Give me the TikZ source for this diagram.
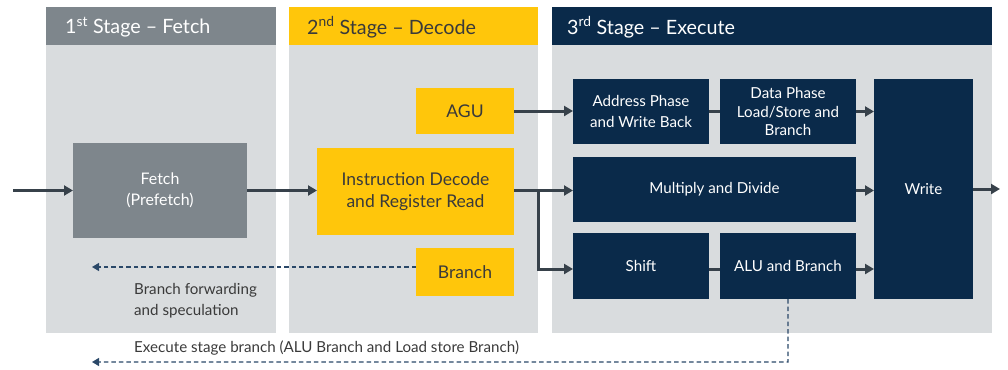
\documentclass[tikz,border=0pt]{standalone}
\usepackage{fontspec}
\setmainfont{Lato}
\usetikzlibrary{arrows.meta,calc}

\definecolor{hdrgray}{HTML}{7E868C}
\definecolor{bodygray}{HTML}{D9DCDE}
\definecolor{ylw}{HTML}{FFC60B}
\definecolor{navy}{HTML}{0A2A4A}
\definecolor{txtdark}{HTML}{3A3A3A}
\definecolor{arr}{HTML}{37414A}
\definecolor{dashc}{HTML}{2A4868}

\tikzset{
  blk/.style={rectangle, inner sep=0pt, outer sep=0pt, anchor=north west, align=center},
  body/.style={blk, fill=bodygray},
  hdr/.style={blk},
  hdrtxt/.style={anchor=west, inner sep=0pt, font=\fontsize{19.8}{23}\selectfont},
  grayblk/.style={blk, fill=hdrgray, text=white, font=\fontsize{16}{21}\selectfont},
  ylwblk/.style={blk, fill=ylw, text=txtdark, font=\fontsize{17.6}{22}\selectfont},
  navyblk/.style={blk, fill=navy, text=white, font=\fontsize{15.2}{22}\selectfont},
  tight/.style={font=\fontsize{15.2}{18.5}\selectfont},
  flow/.style={draw=arr, line width=3bp, -{Triangle[length=9bp,width=10bp]}},
  link/.style={draw=arr, line width=3bp},
  fb/.style={draw=dashc, line width=1.3bp, dash pattern=on 4.5bp off 3bp, -{Triangle[length=7bp,width=8bp]}},
  note/.style={inner sep=0pt, text=txtdark, align=left, font=\fontsize{15.2}{21}\selectfont}
}

\begin{document}
\begin{tikzpicture}[x=1bp, y=-1bp]
\useasboundingbox (0,0) rectangle (1008,369);

% stage columns
\node[body, minimum width=230bp, minimum height=326bp] (s1) at (46,7) {};
\node[body, minimum width=249bp, minimum height=326bp] (s2) at (289,7) {};
\node[body, minimum width=440bp, minimum height=326bp] (s3) at (552,7) {};

% stage headers
\node[hdr, fill=hdrgray, minimum width=230bp, minimum height=38bp] (h1) at (46,7) {};
\node[hdr, fill=ylw, minimum width=249bp, minimum height=38bp] (h2) at (289,7) {};
\node[hdr, fill=navy, minimum width=440bp, minimum height=38bp] (h3) at (552,7) {};
\node[hdrtxt, text=white] (t1) at ($(h1.west)+(19,1)$) {1\textsuperscript{st} Stage – Fetch};
\node[hdrtxt, text=txtdark] (t2) at ($(h2.west)+(18,1)$) {2\textsuperscript{nd} Stage – Decode};
\node[hdrtxt, text=white] (t3) at ($(h3.west)+(15,1)$) {3\textsuperscript{rd} Stage – Execute};

% fetch stage
\node[grayblk, minimum width=174bp, minimum height=95bp] (fetch) at (73,143) {Fetch\\(Prefetch)};

% decode stage
\node[ylwblk, minimum width=98bp, minimum height=46bp] (agu) at (416,88) {AGU};
\node[ylwblk, minimum width=197bp, minimum height=87bp] (dec) at (317,148) {Instruction Decode\\and Register Read};
\node[ylwblk, minimum width=98bp, minimum height=48bp] (br) at (416,248) {Branch};

% execute stage
\node[navyblk, minimum width=136bp, minimum height=65bp] (addr) at (573,79) {Address Phase\\and Write Back};
\node[navyblk, tight, minimum width=136bp, minimum height=65bp, text depth=0pt] (data) at (720,79) {Data Phase\\Load/Store and\\Branch};
\node[navyblk, minimum width=283bp, minimum height=65bp] (mul) at (573,157) {Multiply and Divide};
\node[navyblk, minimum width=136bp, minimum height=66bp] (shift) at (573,233) {Shift};
\node[navyblk, minimum width=136bp, minimum height=66bp] (alu) at (720,233) {ALU and Branch};
\node[navyblk, minimum width=99bp, minimum height=220bp] (wr) at (874,79) {Write};

% free ends and bends
\coordinate (in) at (13,190.5);
\coordinate (out) at (1000,189);
\coordinate (split) at (538,190.5);
\coordinate (bfend) at (92,267);
\coordinate (exturn) at (788,362);
\coordinate (exend) at (92,362);

% main flow
\draw[flow] (in) -- (fetch.west |- in);
\draw[flow] (fetch.east |- in) -- (dec.west |- in);
\draw[flow] (agu.east) -- (agu.east -| addr.west);
\draw[link] (addr.east) -- (data.west);
\draw[flow] (data.east) -- (data.east -| wr.west);
\draw[flow] (dec.east |- split) -- (split -| mul.west);
\draw[flow] (split) |- ($(shift.west)+(0,3)$);
\draw[link] ($(shift.east)+(0,3)$) -- ($(alu.west)+(0,3)$);
\draw[flow] ($(alu.east)+(0,3)$) -- ($(alu.east -| wr.west)+(0,3)$);
\draw[flow] ($(mul.east)+(0,1)$) -- ($(mul.east -| wr.west)+(0,1)$);
\draw[flow] (wr.east |- out) -- (out);

% branch feedback
\draw[fb] (br.west |- bfend) -- (bfend);
\draw[fb] (alu.south) -- (exturn) -- (exend);

\node[note, anchor=north west] (bflbl) at (134,283) {Branch forwarding\\and speculation};
\node[note, anchor=west] (exlbl) at (134,348) {Execute stage branch (ALU Branch and Load store Branch)};
\end{tikzpicture}
\end{document}
